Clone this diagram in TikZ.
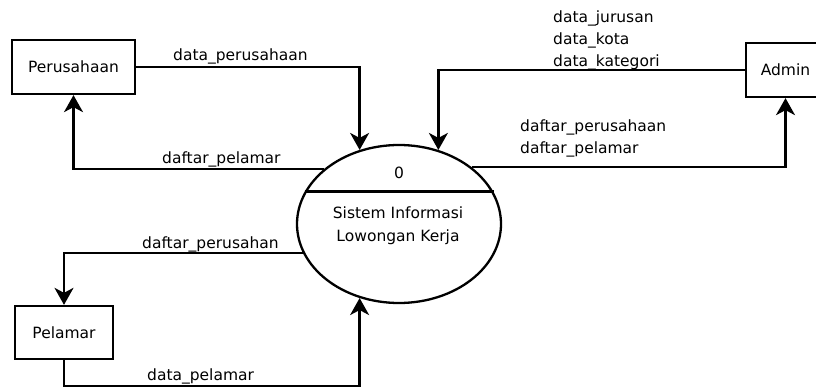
\documentclass[tikz,border=0pt]{standalone}
\usepackage{fontspec}
\setmainfont{DejaVu Sans}
\usetikzlibrary{shapes.geometric,arrows.meta}
\begin{document}
\begin{tikzpicture}[x=1pt,y=-1pt,
  every node/.style={font=\fontsize{15.5}{22}\selectfont},
  entity/.style={draw,line width=2.3pt,rectangle,inner sep=0pt},
  flow/.style={line width=2.3pt,-{Stealth[length=17pt,width=19pt,inset=5pt]}},
  lbl/.style={anchor=base west,inner sep=0pt}]
\useasboundingbox (0,0) rectangle (816,387);
\clip (0,0) rectangle (816,387);
% entities
\node[entity,minimum width=123pt,minimum height=54pt] (per) at (73.5,67) {Perusahaan};
\node[entity,minimum width=98pt,minimum height=53pt] (pel) at (64,332.5) {Pelamar};
\node[entity,minimum width=79pt,minimum height=54pt] (adm) at (785.5,70) {Admin};
% process
\node[ellipse,draw,line width=2.3pt,minimum width=204pt,minimum height=158pt,inner sep=0pt] (p) at (399,224) {};
\draw[line width=2.3pt] (p.161.7) coordinate (dl) -- (dl -| p.18.3) coordinate (dr);
\node (zero) at (399,173) {0};
\node[inner sep=0pt,anchor=base] (t1) at (398,219) {Sistem Informasi};
\node[inner sep=0pt,anchor=base] (t2) at (398,242) {Lowongan Kerja};
% flows
\draw[flow] (per.east) -| (p.118);
\draw[flow] (p.144) -| (per.south);
\draw[flow] (adm.west) -| (p.62.5);
\draw[flow] (p.38) -| (adm.south);
\draw[flow] (p.197) -| (pel.north);
\coordinate (bend) at (200,386.3);
\draw[flow] (pel.south) |- (bend) -| (p.242);
% labels
\node[lbl] (l1) at (173,61) {data\_perusahaan};
\node[lbl] (l2) at (162,164) {daftar\_pelamar};
\node[lbl] (l3) at (553,23) {data\_jurusan};
\node[lbl] (l4) at (553,45) {data\_kota};
\node[lbl] (l5) at (553,67) {data\_kategori};
\node[lbl] (l6) at (520,132) {daftar\_perusahaan};
\node[lbl] (l7) at (520,154) {daftar\_pelamar};
\node[lbl] (l8) at (142,249) {daftar\_perusahan};
\node[lbl] (l9) at (147,380) {data\_pelamar};
\end{tikzpicture}
\end{document}
